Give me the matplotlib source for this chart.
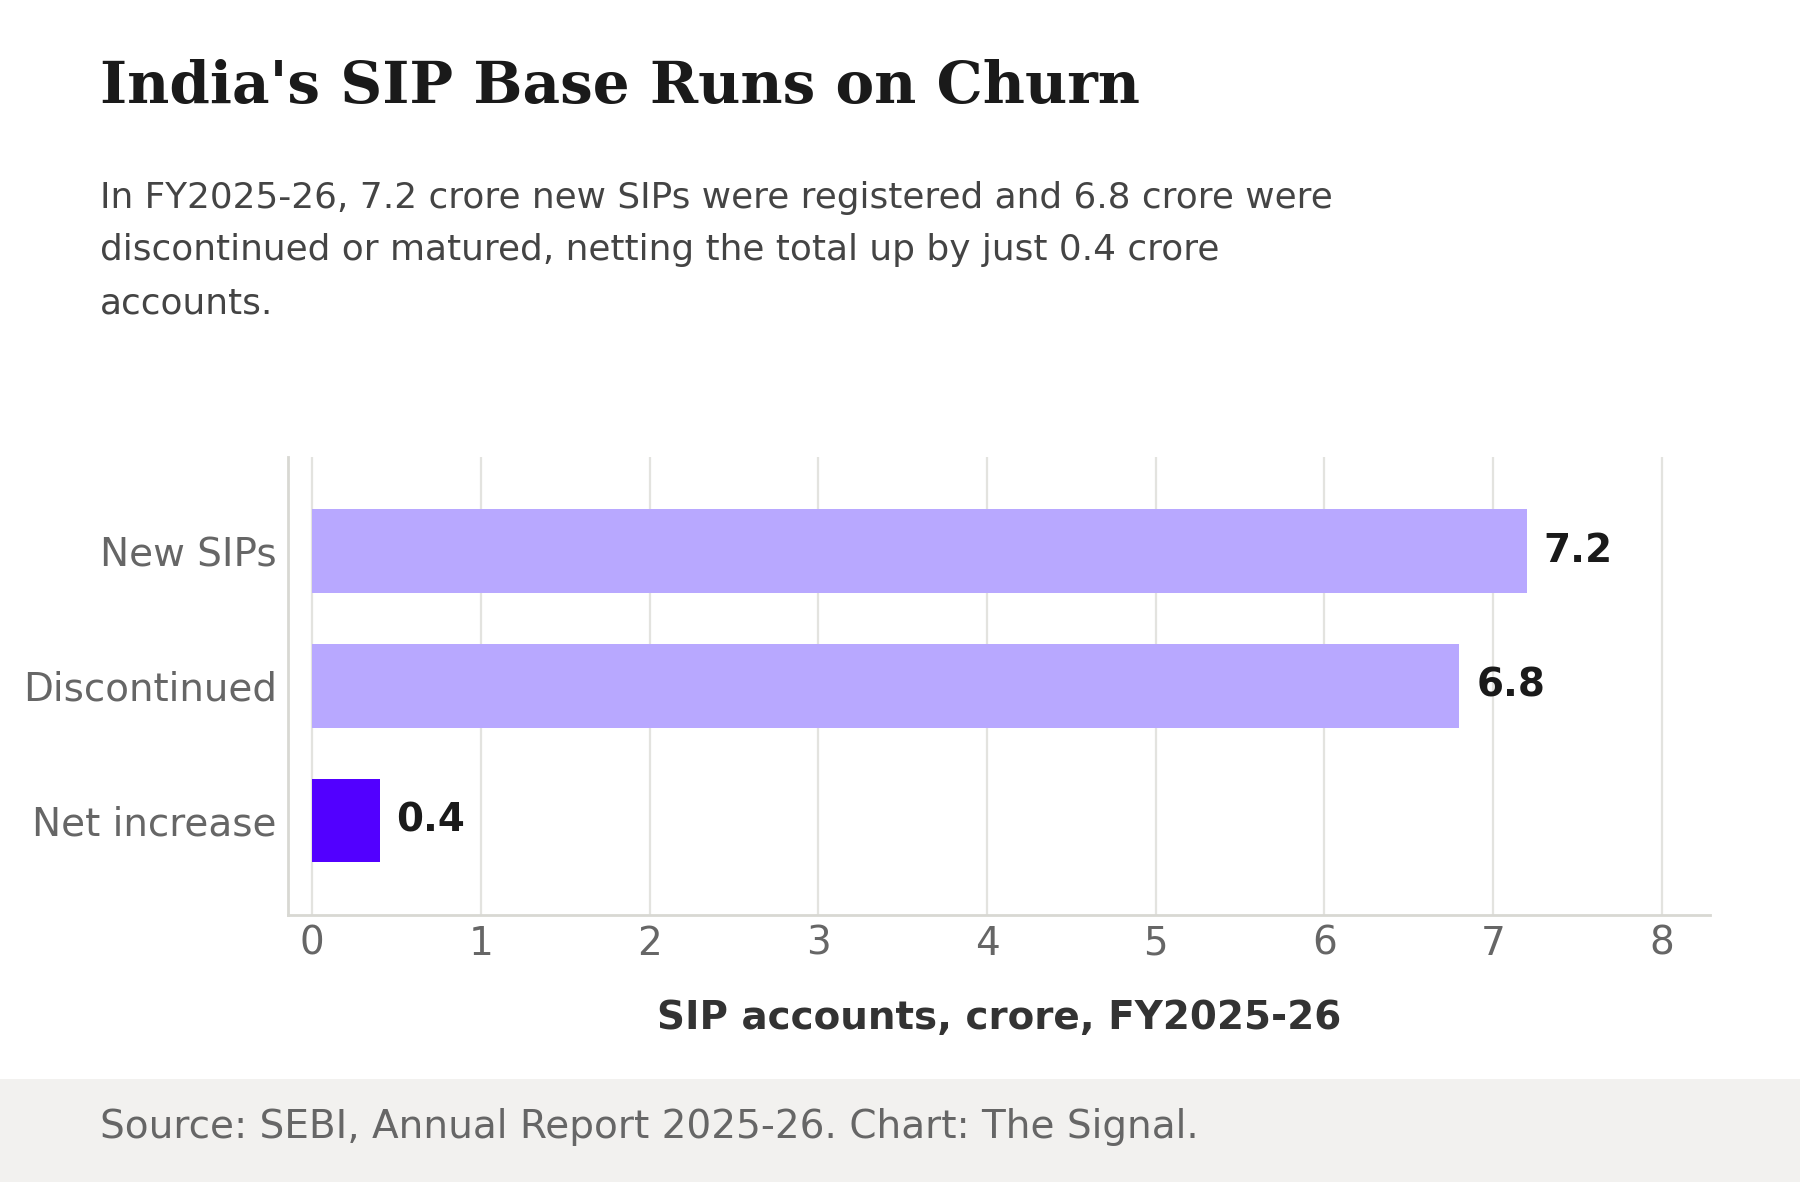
import matplotlib
matplotlib.use("Agg")
import matplotlib.pyplot as plt
from matplotlib.patches import Rectangle

# data
categories = ["New SIPs", "Discontinued", "Net increase"]
values = [7.2, 6.8, 0.4]
bar_colors = ["#b8a8ff", "#b8a8ff", "#5200ff"]
xticks = [0, 1, 2, 3, 4, 5, 6, 7, 8]

title = "India's SIP Base Runs on Churn"
subtitle = ("In FY2025-26, 7.2 crore new SIPs were registered and 6.8 crore were\n"
            "discontinued or matured, netting the total up by just 0.4 crore\n"
            "accounts.")
xlabel = "SIP accounts, crore, FY2025-26"
source = "Source: SEBI, Annual Report 2025-26. Chart: The Signal."

fig = plt.figure(figsize=(18, 11.82), dpi=100)
fig.patch.set_facecolor("white")

# footer band
fig.patches.append(Rectangle((0, 0), 1, 0.0871, transform=fig.transFigure,
                             facecolor="#f2f1ef", edgecolor="none", zorder=0))

ax = fig.add_axes([0.160, 0.2259, 0.790, 0.3875])
y = list(range(len(categories)))
ax.barh(y, values, height=0.62, color=bar_colors, zorder=3)
for yi, v in zip(y, values):
    ax.text(v + 0.1, yi, f"{v:.1f}", va="center", ha="left",
            fontsize=28, fontweight="bold", color="#1a1a1a")

ax.set_xlim(-0.143, 8.286)
ax.set_ylim(2.7, -0.7)
ax.set_yticks(y)
ax.set_yticklabels(categories)
ax.set_xticks(xticks)
ax.set_xticklabels([str(t) for t in xticks])
ax.tick_params(axis="both", length=0, labelsize=28, labelcolor="#666666")
ax.tick_params(axis="x", pad=7)
ax.tick_params(axis="y", pad=8)
ax.grid(axis="x", color="#e3e3df", linewidth=1.6, zorder=0)
ax.grid(axis="y", visible=False)
for s in ["top", "right"]:
    ax.spines[s].set_visible(False)
for s in ["left", "bottom"]:
    ax.spines[s].set_color("#d8d8d3")
    ax.spines[s].set_linewidth(2)
ax.set_xlabel(xlabel, fontsize=28, fontweight="bold", color="#333333")
ax.xaxis.label.set_va("center")
ax.xaxis.set_label_coords(0.5, -0.225)

fig.text(0.0555, 0.9125, title, fontsize=41.8, fontweight="bold",
         family="DejaVu Serif", color="#1a1a1a", ha="left", va="baseline")
fig.text(0.0555, 0.847, subtitle, fontsize=25.8, color="#444444",
         ha="left", va="top", linespacing=1.69)
fig.text(0.0555, 0.0465, source, fontsize=28.1, color="#666666",
         ha="left", va="center")

fig.savefig("out.png", dpi=100, facecolor="white")
